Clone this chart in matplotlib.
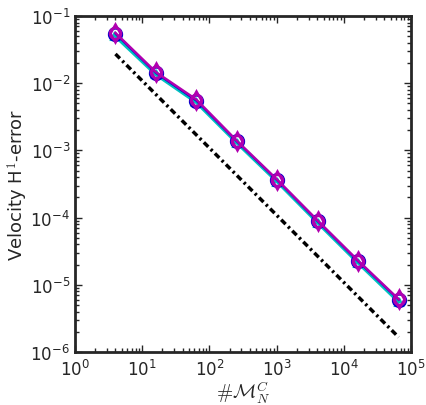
import numpy as np
import matplotlib
matplotlib.use("Agg")
import matplotlib.pyplot as plt

dofs = [4, 16, 64, 256, 1024, 4096, 16384, 65536]
err_blue = [0.0545, 0.0142, 0.0055, 0.00136, 3.58e-4, 8.8e-5, 2.23e-5, 6.0e-6]
err_cyan = [0.0500, 0.0135, 0.0052, 0.00130, 3.42e-4, 8.4e-5, 2.12e-5, 5.6e-6]
err_mag = [0.0560, 0.0146, 0.0057, 0.00139, 3.65e-4, 9.0e-5, 2.28e-5, 6.1e-6]
ref_x = [4, 65536]
ref_y = [0.0272, 1.66e-6]

plt.rcParams['mathtext.fontset'] = 'cm'
fig = plt.figure(figsize=(4.27, 4.06), dpi=100)
ax = fig.add_axes([75/427, 1-353/406, 336/427, 336/406])

ax.plot(ref_x, ref_y, color='black', linewidth=2.5, dashes=(1.8, 1.0, 0.7, 1.0))
ax.plot(dofs, err_cyan, color='#00c0c0', linewidth=2.5, marker='^', markersize=6,
        markerfacecolor='none', markeredgewidth=1.5)
ax.plot(dofs, err_blue, color='#0000cc', linewidth=1.5, marker='o', markersize=9,
        markerfacecolor='none', markeredgewidth=2)
ax.plot(dofs, err_mag, color='#b000b0', linewidth=1.8, marker='d', markersize=9,
        markerfacecolor='none', markeredgewidth=1.8)
ax.plot(dofs, err_mag, color='#b000b0', linewidth=0, marker='o', markersize=8,
        markerfacecolor='none', markeredgewidth=1.8)

ax.set_xscale('log')
ax.set_yscale('log')
ax.set_xlim(1, 1e5)
ax.set_ylim(1e-6, 1e-1)
ax.set_xticks([1, 10, 100, 1e3, 1e4, 1e5])
ax.set_yticks([1e-6, 1e-5, 1e-4, 1e-3, 1e-2, 1e-1])

for s in ax.spines.values():
    s.set_linewidth(2)
    s.set_color('#262626')
ax.tick_params(which='both', direction='in', top=True, right=True, color='#262626',
               labelsize=12, labelcolor='#262626')
ax.tick_params(which='major', length=5, width=1)
ax.tick_params(which='minor', length=3, width=1)
ax.tick_params(axis='x', which='major', pad=5)

ax.set_xlabel(r'$\#\mathcal{M}_N^C$', fontsize=14, color='#262626', labelpad=-1)
ax.set_ylabel('Velocity H$^1$-error', fontsize=13, color='#262626', labelpad=0)

fig.savefig('out.png', dpi=100)
